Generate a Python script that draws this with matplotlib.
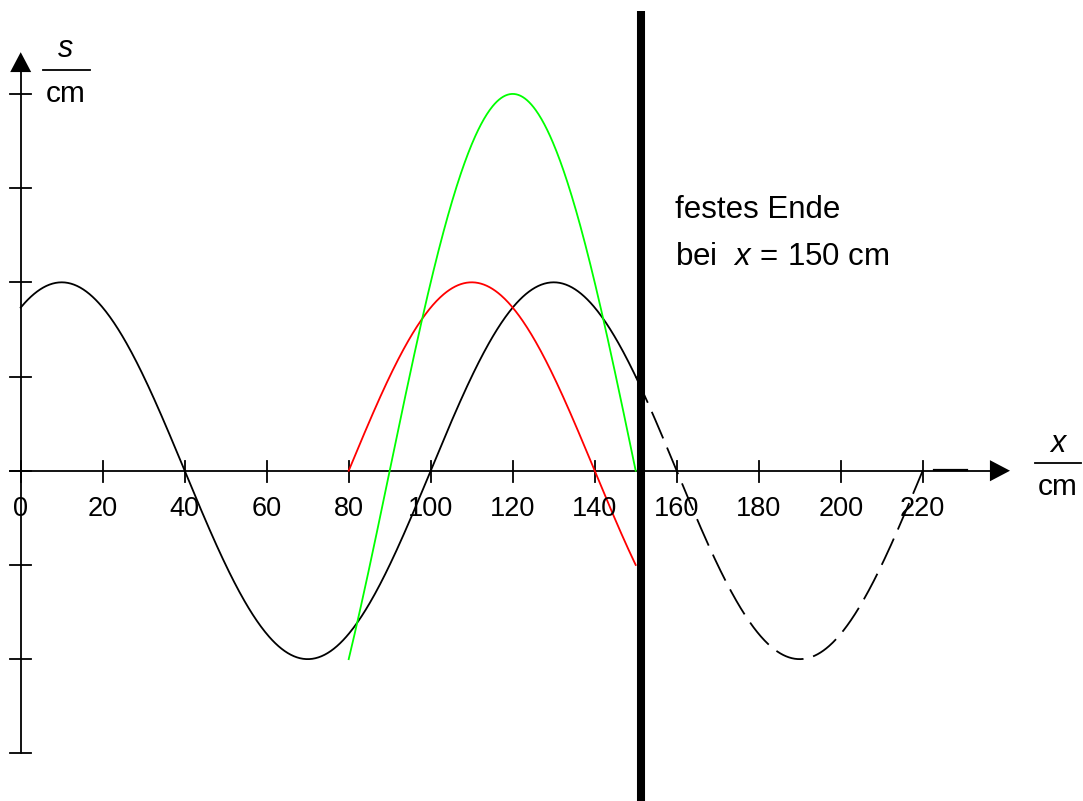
import numpy as np
import matplotlib
matplotlib.use("Agg")
import matplotlib.pyplot as plt

plt.rcParams['font.family'] = ['Liberation Sans', 'DejaVu Sans']
plt.rcParams['mathtext.fontset'] = 'custom'
plt.rcParams['mathtext.rm'] = 'Liberation Sans'
plt.rcParams['mathtext.it'] = 'Liberation Sans:italic'

# ---- data ----
x_ticks = [0, 20, 40, 60, 80, 100, 120, 140, 160, 180, 200, 220]
x_tick_labels = ["0", "20", "40", "60", "80", "100", "120", "140", "160", "180", "200", "220"]
y_ticks = [-3, -2, -1, 0, 1, 2, 3, 4]

wavelength = 120.0          # cm
fixed_end = 150.0           # cm
# incident wave (black): amplitude, crest position, solid range, dashed range
inc_amp = 2.0
inc_crest = 10.0
inc_solid = [0.0, 150.0]
inc_dashed = [150.0, 220.0]
# reflected wave (red)
ref_amp = 2.0
ref_crest = 110.0
ref_range = [80.0, 150.0]
# superposition (green)
sum_amp = 4.0
sum_crest = 120.0
sum_range = [80.0, 150.0]


def wave(x, amp, crest):
    return amp * np.cos(2 * np.pi * (x - crest) / wavelength)


fig = plt.figure(figsize=(10.83, 8.01), dpi=100)
ax = fig.add_axes([0, 0, 1, 1])
ax.set_xlim(-5.05, 259.1)
ax.set_ylim(-3.506, 4.997)
ax.axis('off')

lw = 1.3
# x axis
ax.plot([-2.6, 237.0], [0, 0], color='k', lw=1.3)
ax.fill([236.4, 241.3, 236.4], [0.112, 0.0, -0.112], color='k', lw=0)
ax.plot([222.8, 230.7], [0.012, 0.012], color='k', lw=1.6)
for t in x_ticks:
    ax.plot([t, t], [-0.115, 0.1], color='k', lw=1.3)
for t, lab in zip(x_ticks, x_tick_labels):
    ax.text(t, -0.41, lab, ha='center', va='center', fontsize=19.5)

# y axis
ax.plot([0, 0], [-3.0, 4.24], color='k', lw=1.3)
ax.fill([-2.56, 0.0, 2.56], [4.232, 4.443, 4.232], color='k', lw=0)
for t in y_ticks:
    ax.plot([-2.6, 2.6], [t, t], color='k', lw=1.3)

# axis labels (fractions)
ax.text(11.0, 4.39, "s", ha='center', va='baseline', fontsize=22, style='italic')
ax.plot([5.4, 16.9], [4.25, 4.25], color='k', lw=1.3)
ax.text(11.0, 3.91, "cm", ha='center', va='baseline', fontsize=21.5)

ax.text(252.9, 0.198, "x", ha='center', va='baseline', fontsize=22, style='italic')
ax.plot([247.4, 258.6], [0.082, 0.082], color='k', lw=1.3)
ax.text(252.9, -0.259, "cm", ha='center', va='baseline', fontsize=21.5)

# curves
xs = np.linspace(inc_solid[0], inc_solid[1], 600)
ax.plot(xs, wave(xs, inc_amp, inc_crest), color='k', lw=lw)
xd = np.linspace(inc_dashed[0], inc_dashed[1], 400)
ax.plot(xd, wave(xd, inc_amp, inc_crest), color='k', lw=lw,
        linestyle=(0, (16.0, 5.5)))
xr = np.linspace(ref_range[0], ref_range[1], 400)
ax.plot(xr, wave(xr, ref_amp, ref_crest), color='#ff0000', lw=lw)
xg = np.linspace(sum_range[0], sum_range[1], 400)
ax.plot(xg, wave(xg, sum_amp, sum_crest), color='#00ff00', lw=lw)

# fixed end wall
ax.plot([fixed_end + 1.4, fixed_end + 1.4], [-3.6, 4.88], color='k', lw=5.8,
        solid_capstyle='butt')

ax.text(159.6, 2.68, "festes Ende", ha='left', va='baseline', fontsize=22.5)
ax.text(159.6, 2.18, r"bei  $x\,=\,150$ cm", ha='left', va='baseline', fontsize=22.5)

fig.savefig("out.png", dpi=100)
